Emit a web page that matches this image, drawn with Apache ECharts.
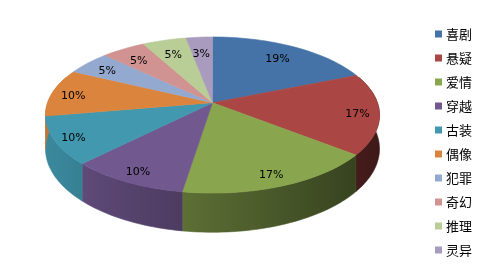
<!DOCTYPE html>
<html><head><meta charset="utf-8">
<script src="https://cdn.jsdelivr.net/npm/echarts@6/dist/echarts.min.js"></script>
<style>html,body{margin:0;padding:0;background:#fff}#c{width:504px;height:266px}</style>
</head><body><div id="c"></div>
<script>
const categories = ['喜剧','悬疑','爱情','穿越','古装','偶像','犯罪','奇幻','推理','灵异'];
const values = [19,17,17,10,10,10,5,5,5,3];
const palette = ['#4572A7','#AA4643','#89A54E','#71588F','#4198AF','#DB843D','#93A9CF','#D19392','#B9CD96','#A99BBD'];

const total = values.reduce((a,b)=>a+b,0);
const starts = []; let acc = 0; values.forEach(v=>{starts.push(acc); acc+=v;});

const CX = 212.5, CY = 102.7, RX = 164.9, RY = 76.1, K = 0.158, D = 33;
function proj(t, f){ const u=Math.cos(t)*f, v=Math.sin(t)*f; const w=1/(1-K*v); return [CX+RX*u*w, CY+RY*v*w, w]; }
function shade(hex, s){ const n=parseInt(hex.slice(1),16); const r=Math.round(((n>>16)&255)*s), g=Math.round(((n>>8)&255)*s), b=Math.round((n&255)*s); return 'rgb('+r+','+g+','+b+')'; }

const LO = -Math.asin(0.35), HI = Math.PI + Math.asin(0.35);

function renderItem(params, api){
  const i = params.dataIndex; const val = api.value(0);
  const a1 = -Math.PI/2 + starts[i]/total*Math.PI*2;
  const a2 = a1 + val/total*Math.PI*2;
  const color = palette[i];
  const children = [];
  const n = Math.max(2, Math.ceil((a2-a1)/(Math.PI/90)));
  const pts = [[CX,CY]];
  for(let j=0;j<=n;j++){ const p=proj(a1+(a2-a1)*j/n,1); pts.push([p[0],p[1]]); }
  children.push({type:'polygon', shape:{points:pts}, style:{fill:color, stroke:color, lineWidth:0.6}, z2:10});
  const s1 = Math.max(a1, LO), s2 = Math.min(a2, HI);
  if (s2 > s1) {
    const m = Math.max(2, Math.ceil((s2-s1)/(Math.PI/120)));
    const top = [], bot = [];
    for(let j=0;j<=m;j++){ const p=proj(s1+(s2-s1)*j/m,1); top.push([p[0],p[1]]); bot.push([p[0],p[1]+D*p[2]]); }
    const stops = [];
    for(let q=0;q<=8;q++){ const uu=-1+q/4; stops.push({offset:q/8, color:shade(color, 0.63-0.27*uu)}); }
    const grad = {type:'linear', x:CX-RX-4, y:0, x2:CX+RX+4, y2:0, global:true, colorStops:stops};
    children.push({type:'polygon', shape:{points: top.concat(bot.reverse())}, style:{fill:grad, stroke:grad, lineWidth:0.6}, z2:1});
  }
  const mid=(a1+a2)/2, u=Math.cos(mid), v=Math.sin(mid);
  const f = 0.79 + 0.08*Math.abs(u) + 0.05*v;
  const lp = proj(mid, f);
  children.push({type:'text', x:lp[0]-1, y:lp[1]+2, z2:20,
    style:{text: Math.round(val/total*100)+'%', fill:'#000', font:'11px "DejaVu Sans"', align:'center', verticalAlign:'middle'}});
  return {type:'group', children};
}

const chart = echarts.init(document.getElementById('c'), null, {renderer:'canvas'});
chart.setOption({
  animation:false,
  color: palette,
  legend:{ data: categories, orient:'vertical', left:430, top:21, itemWidth:7, itemHeight:7, icon:'rect', itemGap:8,
    textStyle:{fontFamily:'"Noto Sans CJK SC"', fontSize:13, lineHeight:16, color:'#000', padding:[0,0,0,-1]}, selectedMode:false },
  series:[
    { type:'custom', coordinateSystem:'none', renderItem, data: values, silent:true },
    { type:'pie', radius:[0,0], center:[-100,-100], label:{show:false}, silent:true,
      data: categories.map((c,i)=>({name:c, value:values[i]})) }
  ]
});
</script></body></html>
